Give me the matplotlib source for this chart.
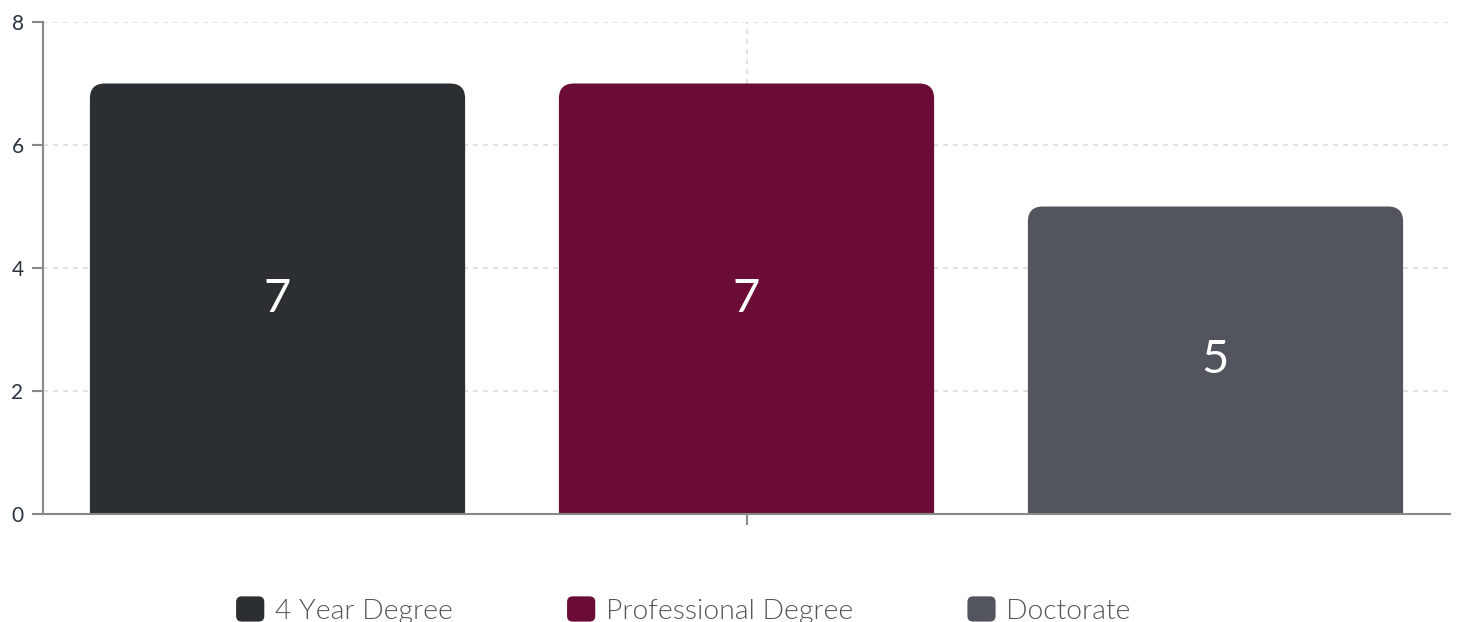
import matplotlib
matplotlib.use('Agg')
import matplotlib.pyplot as plt
from matplotlib.patches import FancyBboxPatch
from matplotlib.legend_handler import HandlerPatch

# data
categories = ['4 Year Degree', 'Professional Degree', 'Doctorate']
values = [7, 7, 5]
colors = ['#2b2f32', '#6a0c35', '#52555e']
yticks = [0, 2, 4, 6, 8]

plt.rcParams['font.family'] = ['Lato', 'DejaVu Sans']

fig = plt.figure(figsize=(14.6, 6.22), dpi=100)
ax = fig.add_axes([43 / 1460, 108 / 622, 1407 / 1460, 492 / 622])
ax.set_xlim(-0.5, 0.5)
ax.set_ylim(0, 8)

# bar positions inside the single group
n = len(categories)
width = 0.8 / n
offsets = [(i - (n - 1) / 2) / n for i in range(n)]

bars = ax.bar(offsets, values, width=width, color=colors)

# swap plain bars for ones with rounded top corners (radius in pixels)
radius_px = 15
fig.canvas.draw()
px_x = ax.transData.transform((1, 0))[0] - ax.transData.transform((0, 0))[0]
px_y = ax.transData.transform((0, 1))[1] - ax.transData.transform((0, 0))[1]
rx = radius_px / px_x
aspect = (radius_px / px_y) / rx
for b, c in zip(bars, colors):
    b.set_visible(False)
    x0, w, h = b.get_x(), b.get_width(), b.get_height()
    ry = rx * aspect
    patch = FancyBboxPatch((x0, -ry * 2), w, h + ry * 2,
                           boxstyle='round,pad=0,rounding_size=%f' % rx,
                           mutation_aspect=aspect, facecolor=c,
                           edgecolor='none', zorder=2)
    ax.add_patch(patch)
    ax.text(x0 + w / 2, h / 2, str(h if h % 1 else int(h)), ha='center',
            va='center', color='white', fontsize=34, fontweight='normal',
            zorder=3)

# axes styling
for s in ['top', 'right']:
    ax.spines[s].set_visible(False)
for s in ['left', 'bottom']:
    ax.spines[s].set_color('#888888')
    ax.spines[s].set_linewidth(1.5)
    ax.spines[s].set_zorder(4)

ax.set_yticks(yticks)
ax.set_xticks([0])
ax.set_xticklabels([''])
ax.tick_params(axis='y', length=8, width=1.5, color='#888888', pad=6,
               labelsize=15, labelcolor='#2b3340')
ax.tick_params(axis='x', length=8, width=1.5, color='#888888')
ax.grid(True, color='#dddddd', linestyle=(0, (3, 3)), linewidth=1.2)
ax.set_axisbelow(True)


class RoundHandler(HandlerPatch):
    def create_artists(self, legend, orig_handle, xdescent, ydescent,
                       width, height, fontsize, trans):
        p = FancyBboxPatch((-xdescent, -ydescent), width, height,
                           boxstyle='round,pad=0,rounding_size=%f' % (width * 0.2),
                           facecolor=orig_handle.get_facecolor(),
                           edgecolor='none', transform=trans)
        return [p]


handles = [FancyBboxPatch((0, 0), 1, 1, facecolor=c) for c in colors]
leg = fig.legend(handles, categories, loc='center left',
                 bbox_to_anchor=(222 / 1460, 12 / 622), ncol=3, frameon=False,
                 handlelength=1.0, handleheight=1.0,
                 handletextpad=0.38, columnspacing=4.05, borderpad=0,
                 handler_map={FancyBboxPatch: RoundHandler()},
                 prop={'size': 20.3, 'weight': 300})
for t in leg.get_texts():
    t.set_color('#555555')

fig.savefig('out.png', dpi=100)
